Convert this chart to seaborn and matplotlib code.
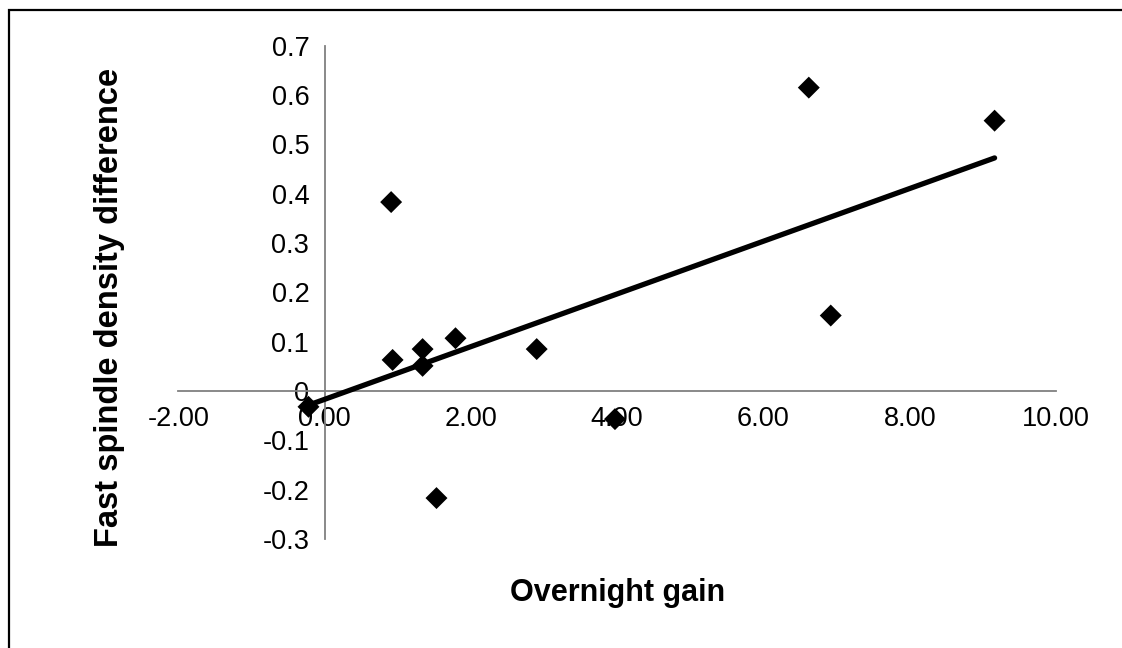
import matplotlib
matplotlib.use("Agg")
import matplotlib.pyplot as plt
from matplotlib.patches import Rectangle
import seaborn as sns
import pandas as pd

# Overnight gain vs. change in fast spindle density, one point per subject
overnight_gain = [-0.22, 0.91, 0.93, 1.34, 1.34, 1.79, 1.53, 2.90, 3.97, 6.62, 6.92, 9.16]
spindle_diff = [-0.032, 0.383, 0.063, 0.085, 0.051, 0.107, -0.217, 0.085, -0.057, 0.615, 0.153, 0.548]

x_ticks = [-2, 0, 2, 4, 6, 8, 10]
x_tick_labels = ["-2.00", "0.00", "2.00", "4.00", "6.00", "8.00", "10.00"]
y_ticks = [0.7, 0.6, 0.5, 0.4, 0.3, 0.2, 0.1, 0.0, -0.1, -0.2, -0.3]
y_tick_labels = ["0.7", "0.6", "0.5", "0.4", "0.3", "0.2", "0.1", "0", "-0.1", "-0.2", "-0.3"]

df = pd.DataFrame({"gain": overnight_gain, "diff": spindle_diff})

sns.set_theme(style="white")
plt.rcParams["font.family"] = ["Liberation Sans", "DejaVu Sans"]
plt.rcParams["text.color"] = "black"

fig = plt.figure(figsize=(11.22, 6.48), dpi=100)
ax = fig.add_axes([0.1589, 0.1682, 0.9412 - 0.1589, 0.9295 - 0.1682])

sns.regplot(
    data=df, x="gain", y="diff", ax=ax, ci=None, truncate=True,
    marker="D",
    scatter_kws={"s": 125, "color": "black", "alpha": 1.0, "edgecolors": "none", "zorder": 3},
    line_kws={"color": "black", "linewidth": 3.8, "solid_capstyle": "round", "zorder": 2},
)

ax.set_xlim(-2, 10)
ax.set_ylim(-0.3, 0.7)

# Axes cross at the origin, Excel style
axis_grey = "#808080"
for side in ("top", "right"):
    ax.spines[side].set_visible(False)
ax.spines["left"].set_position(("data", 0))
ax.spines["bottom"].set_position(("data", 0))
for side in ("left", "bottom"):
    ax.spines[side].set_color(axis_grey)
    ax.spines[side].set_linewidth(1.3)
    ax.spines[side].set_zorder(1)

ax.set_xticks(x_ticks)
ax.set_xticklabels(x_tick_labels)
ax.set_yticks(y_ticks)
ax.set_yticklabels(y_tick_labels)
ax.tick_params(axis="both", direction="out", length=6, width=1.1, color="black",
               labelsize=19.5, labelcolor="black")
ax.tick_params(axis="x", pad=5)
ax.tick_params(axis="y", pad=5)

ax.set_xlabel("")
ax.set_ylabel("")
fig.text(618 / 1122, 1 - 593 / 648, "Overnight gain", ha="center", va="center",
         fontsize=22, fontweight="bold", color="black")
fig.text(110 / 1122, 1 - 307 / 648, "Fast spindle density difference", ha="center",
         va="center", rotation=90, fontsize=23.5, fontweight="bold", color="black")

# Chart-area frame
fig.patches.append(Rectangle((9 / 1122, -0.2), 1.5, 1.2 - 10 / 648, transform=fig.transFigure,
                             fill=False, edgecolor="black", linewidth=1.6))

fig.savefig("out.png", dpi=100)
